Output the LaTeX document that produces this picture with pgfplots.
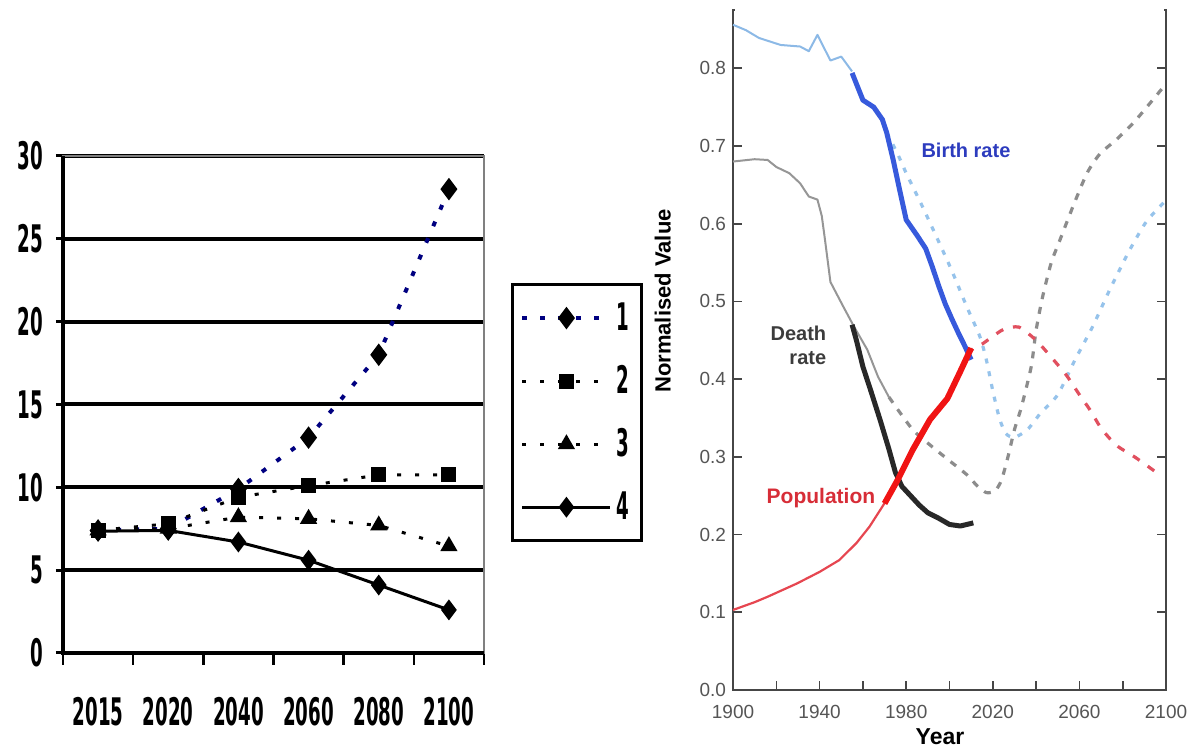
\documentclass[border=0pt]{standalone}
\usepackage{fontspec}
\setmainfont{Liberation Sans}
\newfontfamily\pixfont{DejaVu Sans}[FakeStretch=0.48]
\usepackage{pgfplots}
\pgfplotsset{compat=1.18}
\definecolor{navyd}{RGB}{0,0,128}
\definecolor{lblue}{RGB}{140,185,230}
\definecolor{dblue}{RGB}{55,90,220}
\definecolor{pblue}{RGB}{150,195,235}
\definecolor{lgray}{RGB}{150,150,150}
\definecolor{dgray}{RGB}{40,40,40}
\definecolor{mgray}{RGB}{140,140,140}
\definecolor{lred}{RGB}{230,70,80}
\definecolor{tred}{RGB}{240,20,20}
\definecolor{dred}{RGB}{225,80,95}
\definecolor{labblue}{RGB}{45,60,190}
\definecolor{labred}{RGB}{215,45,55}
\definecolor{labgray}{RGB}{60,60,60}
\definecolor{axgray}{RGB}{70,70,70}
\definecolor{tickgray}{RGB}{85,85,85}
\newcommand\pix{\pixfont\bfseries\fontsize{19}{20}\selectfont}
\begin{document}
\begin{tikzpicture}
\useasboundingbox (0pt,0pt) rectangle (596pt,373.5pt);
% ---------------- left chart ----------------
\begin{axis}[at={(31.5pt,47pt)}, anchor=south west, scale only axis,
  width=210.5pt, height=248.5pt,
  xmin=-0.5, xmax=5.5, ymin=0, ymax=30,
  axis line style={draw=gray, line width=1pt},
  xtick={0,...,5}, xticklabels={2015,2020,2040,2060,2080,2100},
  minor xtick={-0.5,0.5,...,5.5},
  ytick={0,5,...,30},
  xtick pos=bottom, ytick pos=left,
  tick align=outside,
  major tick length=3.5pt, minor tick length=6pt,
  major x tick style={draw=none},
  minor x tick style={black, line width=1.2pt},
  y tick style={black, line width=1.5pt},
  ymajorgrids, grid style={black, line width=2pt},
  ticklabel style={font=\pix},
  /pgf/number format/assume math mode=true,
  xticklabel style={yshift=-15pt},
  yticklabel style={xshift=-3pt},
  legend style={at={(1.064,0.744)}, anchor=north west, draw=black, line width=1.5pt,
    font=\pix, row sep=12pt, inner xsep=4pt, inner ysep=7pt,
    nodes={inner sep=2pt},
    /tikz/every even column/.append style={column sep=4pt}},
  legend image code/.code={\draw[mark repeat=2, mark phase=2, #1] plot coordinates {(0pt,0pt) (22pt,0pt) (44pt,0pt)};},
  clip=false]
\addplot[navyd, line width=2pt, dash pattern=on 2.5pt off 6.5pt, mark=diamond*, mark size=4pt, mark options={solid, black, fill=black}]
  coordinates {(0,7.4)(1,7.5)(2,9.9)(3,13)(4,18)(5,28)};
\addplot[black, line width=1.5pt, dash pattern=on 2pt off 7pt, mark=square*, mark size=3pt, mark options={solid, black, fill=black}]
  coordinates {(0,7.4)(1,7.8)(2,9.4)(3,10.1)(4,10.75)(5,10.75)};
\addplot[black, line width=1.5pt, dash pattern=on 2pt off 7pt, mark=triangle*, mark size=3.5pt, mark options={solid, black, fill=black}]
  coordinates {(0,7.4)(1,7.5)(2,8.2)(3,8.1)(4,7.7)(5,6.45)};
\addplot[black, line width=1.5pt, mark=diamond*, mark size=4pt, mark options={solid, black, fill=black}]
  coordinates {(0,7.35)(1,7.4)(2,6.7)(3,5.6)(4,4.1)(5,2.6)};
\legend{1,2,3,4}
\draw[gray, line width=1.2pt] (rel axis cs:0,1) -- (rel axis cs:1,1) -- (rel axis cs:1,0);
\draw[black, line width=1.6pt] (rel axis cs:0,1) -- (rel axis cs:0,0) -- (rel axis cs:1,0);
\end{axis}
% ---------------- right chart ----------------
\begin{axis}[at={(366.5pt,28.5pt)}, anchor=south west, scale only axis,
  width=216.5pt, height=340pt,
  xmin=1900, xmax=2100, ymin=0, ymax=0.875,
  axis line style={draw=axgray, line width=0.8pt},
  xtick={1900,1940,1980,2020,2060,2100}, minor xtick={1920,1960,2000,2040,2080},
  ytick={0,0.1,0.2,0.3,0.4,0.5,0.6,0.7,0.8},
  xtick pos=bottom, ytick pos=both, yticklabel pos=left,
  tick align=inside, major tick length=4.5pt, minor tick length=4.5pt,
  tick style={axgray, line width=0.8pt},
  ticklabel style={font=\fontsize{9.5}{11}\selectfont, text=tickgray},
  yticklabel style={/pgf/number format/.cd, fixed, fixed zerofill, precision=1, assume math mode=true},
  xticklabel style={yshift=-4pt, /pgf/number format/.cd, set thousands separator={}, assume math mode=true},
  xlabel={Year}, ylabel={Normalised Value},
  xlabel style={font=\bfseries\fontsize{11.5}{13}\selectfont, at={(axis description cs:0.478,-0.069)}, anchor=center},
  ylabel style={font=\bfseries\fontsize{11}{13}\selectfont, at={(axis description cs:-0.162,0.572)}, anchor=center},
  clip=false]
% historical death (gray)
\addplot[lgray, line width=1pt, line join=round] coordinates {
(1900,0.68)(1910,0.683)(1916,0.682)(1920,0.673)(1926,0.665)(1931,0.652)(1935,0.635)(1939,0.631)(1941,0.61)(1942.5,0.579)(1945,0.525)(1951,0.493)(1956,0.467)(1962,0.438)(1967,0.403)(1972,0.377)};
% projected death (gray dashed)
\addplot[mgray, line width=1.6pt, dash pattern=on 3.5pt off 4pt, smooth, tension=0.4] coordinates {
(1972,0.377)(1983,0.335)(1992,0.313)(2000,0.295)(2008,0.277)(2013,0.262)(2017,0.254)(2021,0.256)(2024,0.27)(2027,0.3)(2030,0.335)(2033,0.362)(2036,0.395)(2038,0.42)(2040,0.463)(2043,0.506)(2047,0.55)(2051,0.579)(2057,0.622)(2063.5,0.665)(2069.5,0.69)(2077,0.708)(2085,0.73)(2092.6,0.755)(2100,0.78)};
% projected birth (light blue dotted)
\addplot[pblue, line width=1.6pt, dash pattern=on 2.5pt off 4pt, smooth, tension=0.4] coordinates {
(1971,0.717)(1976,0.69)(1980,0.665)(1987,0.625)(1994,0.583)(2001,0.54)(2008,0.493)(2014,0.455)(2017,0.425)(2020,0.385)(2023,0.35)(2026,0.33)(2030,0.325)(2036,0.335)(2042,0.356)(2050,0.38)(2058,0.425)(2066,0.467)(2074,0.515)(2083,0.565)(2091,0.603)(2100,0.63)};
% projected population (red dashed)
\addplot[dred, line width=1.6pt, dash pattern=on 4pt off 5pt, smooth, tension=0.4] coordinates {
(2005,0.41)(2010,0.437)(2015,0.445)(2020,0.455)(2025,0.464)(2032,0.467)(2040,0.45)(2048,0.425)(2054,0.405)(2060,0.38)(2065,0.36)(2070,0.337)(2077,0.315)(2086,0.299)(2097,0.277)};
% historical birth (light blue)
\addplot[lblue, line width=1pt, line join=round] coordinates {
(1900,0.856)(1906,0.849)(1912,0.839)(1922,0.83)(1931,0.828)(1935,0.822)(1939,0.843)(1945,0.81)(1950,0.815)(1955,0.796)};
% population thin
\addplot[lred, line width=1.1pt, line join=round] coordinates {
(1900,0.103)(1910,0.113)(1916,0.12)(1929.5,0.137)(1940,0.152)(1949,0.167)(1957,0.189)(1963,0.21)(1969,0.236)(1971,0.245)};
% death thick
\addplot[dgray, line width=2.5pt, line join=round] coordinates {
(1955,0.47)(1957,0.45)(1960,0.416)(1964,0.382)(1968,0.347)(1972,0.31)(1975,0.28)(1978,0.262)(1982,0.25)(1986,0.238)(1990,0.228)(1995,0.221)(2000,0.213)(2005,0.211)(2011,0.215)};
% birth thick
\addplot[dblue, line width=2.5pt, line join=round] coordinates {
(1955,0.794)(1960,0.759)(1965,0.75)(1969,0.734)(1971,0.717)(1974,0.682)(1977,0.643)(1980,0.605)(1985,0.585)(1989,0.568)(1992,0.545)(1995,0.52)(1998,0.497)(2001,0.478)(2004,0.46)(2007,0.443)(2010,0.425)};
% population thick
\addplot[tred, line width=3pt, line join=round] coordinates {
(1970,0.24)(1976,0.27)(1983,0.309)(1991,0.348)(1999,0.375)(2005,0.41)(2010,0.44)};
\node[font=\bfseries\fontsize{10}{12}\selectfont, text=labblue] at (axis cs:2007.6,0.695) {Birth rate};
\node[font=\bfseries\fontsize{10}{12}\selectfont, text=labgray, align=right, anchor=east] at (axis cs:1946.3,0.443) {Death\\rate};
\node[font=\bfseries\fontsize{10.5}{12}\selectfont, text=labred] at (axis cs:1940.6,0.247) {Population};
\draw[white, line width=2pt] (rel axis cs:0.005,1) -- (rel axis cs:0.995,1);
\end{axis}
\end{tikzpicture}
\end{document}
